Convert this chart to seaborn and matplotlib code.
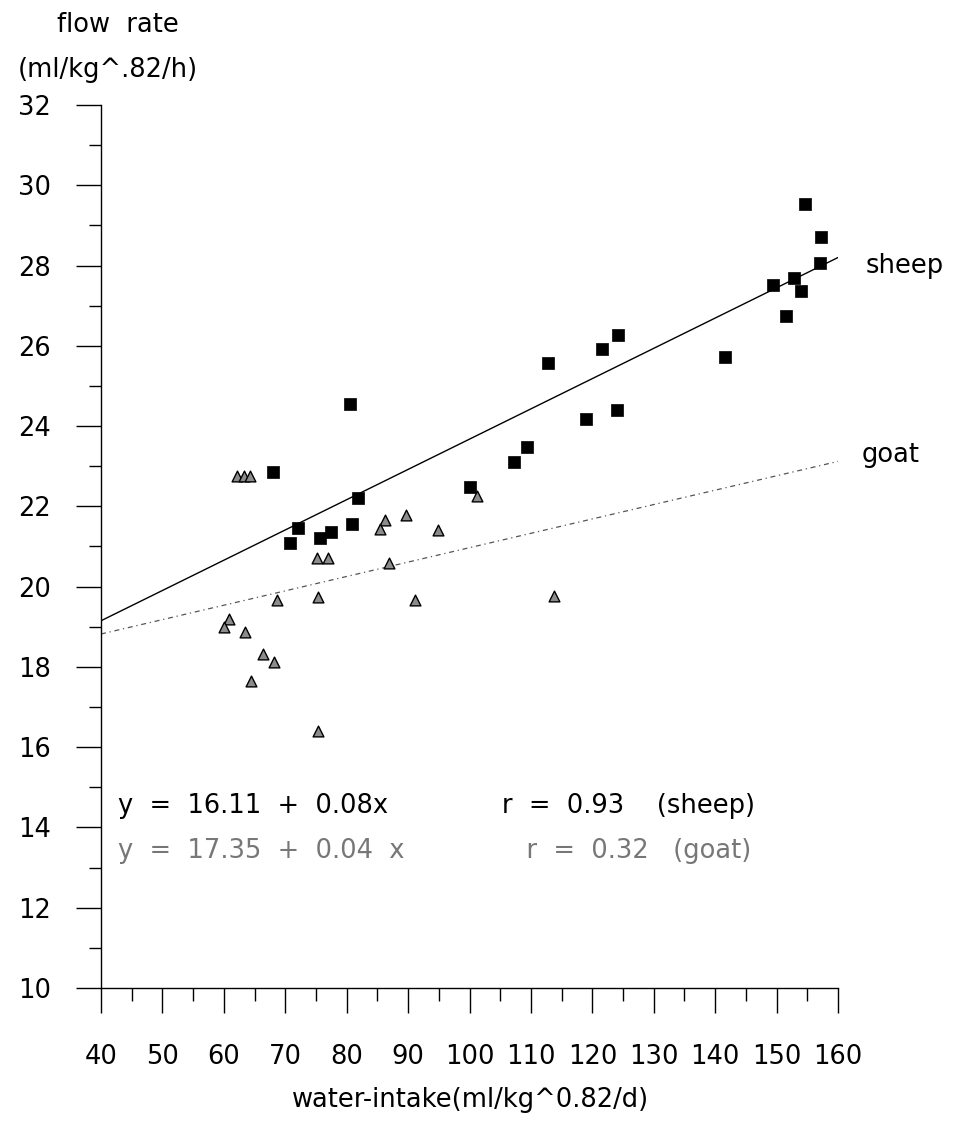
import pandas as pd
import matplotlib.pyplot as plt
import seaborn as sns
from matplotlib.ticker import MultipleLocator

# data
sheep_x = [154.7, 157.2, 157.0, 152.8, 149.4, 153.9, 151.5, 141.6, 124.1, 121.5, 112.8, 124.0,
           118.9, 109.4, 107.2, 100.0, 80.5, 68.0, 81.9, 72.0, 70.8, 75.7, 77.5, 80.9]
sheep_y = [29.53, 28.72, 28.07, 27.68, 27.51, 27.37, 26.74, 25.71, 26.27, 25.92, 25.56, 24.39,
           24.17, 23.48, 23.11, 22.47, 24.56, 22.86, 22.21, 21.46, 21.09, 21.21, 21.36, 21.55]

goat_x = [62.2, 63.2, 64.2, 101.2, 86.25, 85.4, 89.6, 94.8, 75.2, 77.0, 86.9, 68.6, 75.4,
          91.1, 113.8, 60.9, 60.1, 63.5, 66.3, 68.1, 64.4, 75.4]
goat_y = [22.75, 22.75, 22.75, 22.27, 21.67, 21.44, 21.78, 21.42, 20.71, 20.71, 20.59, 19.67,
          19.74, 19.66, 19.76, 19.2, 18.99, 18.88, 18.33, 18.13, 17.66, 16.4]

fit_x = [40, 160]
sheep_fit = [19.15, 28.2]
goat_fit = [18.82, 23.12]

sheep_eq = "y  =  16.11  +  0.08x              r  =  0.93    (sheep)"
goat_eq = "y  =  17.35  +  0.04  x               r  =  0.32   (goat)"

sheep = pd.DataFrame({"x": sheep_x, "y": sheep_y})
goat = pd.DataFrame({"x": goat_x, "y": goat_y})

sns.set_style("ticks")
plt.rcParams["font.family"] = ["DejaVu Sans"]
plt.rcParams["text.color"] = "black"

FS = 18.5

fig = plt.figure(figsize=(9.65, 11.29), dpi=100)
ax = fig.add_axes([0.1047, 0.1249, 0.7637, 0.7821])

ax.plot(fit_x, sheep_fit, color="black", lw=1.0)
ax.plot(fit_x, goat_fit, color="#555555", lw=0.9, ls=(0, (4, 3, 1, 3)))

sns.scatterplot(data=goat, x="x", y="y", marker="^", s=60, color="#8c8c8c",
                edgecolor="black", linewidth=1.0, ax=ax, zorder=3)
sns.scatterplot(data=sheep, x="x", y="y", marker="s", s=85, color="black",
                edgecolor="black", linewidth=0.5, ax=ax, zorder=4)

ax.set_xlim(40, 160)
ax.set_ylim(10, 32)
ax.xaxis.set_major_locator(MultipleLocator(10))
ax.xaxis.set_minor_locator(MultipleLocator(5))
ax.yaxis.set_major_locator(MultipleLocator(2))
ax.yaxis.set_minor_locator(MultipleLocator(1))
sns.despine(ax=ax)
for s in ["left", "bottom"]:
    ax.spines[s].set_linewidth(1.0)
    ax.spines[s].set_color("black")

ax.tick_params(axis="both", which="major", length=18, width=1.0, color="black",
               labelsize=FS, labelcolor="black")
ax.tick_params(axis="both", which="minor", length=9, width=1.0, color="black")
ax.tick_params(axis="y", which="major", pad=18)
ax.tick_params(axis="x", which="major", pad=22)
ax.set_xlabel("")
ax.set_ylabel("")

ax.text(164.5, 28.0, "sheep", fontsize=FS, va="center", ha="left", clip_on=False)
ax.text(163.8, 23.27, "goat", fontsize=FS, va="center", ha="left", clip_on=False)
ax.text(42.8, 14.54, sheep_eq, fontsize=FS, va="center", ha="left")
ax.text(42.8, 13.42, goat_eq, fontsize=FS, va="center", ha="left", color="#777777")

fig.text(118 / 965, 1 - 25 / 1129, "flow  rate", fontsize=FS, ha="center", va="center")
fig.text(108 / 965, 1 - 70 / 1129, "(ml/kg^.82/h)", fontsize=FS, ha="center", va="center")
fig.text(470 / 965, 1 - 1100 / 1129, "water-intake(ml/kg^0.82/d)", fontsize=FS,
         ha="center", va="center")

fig.savefig("out.png", dpi=100, facecolor="white")
